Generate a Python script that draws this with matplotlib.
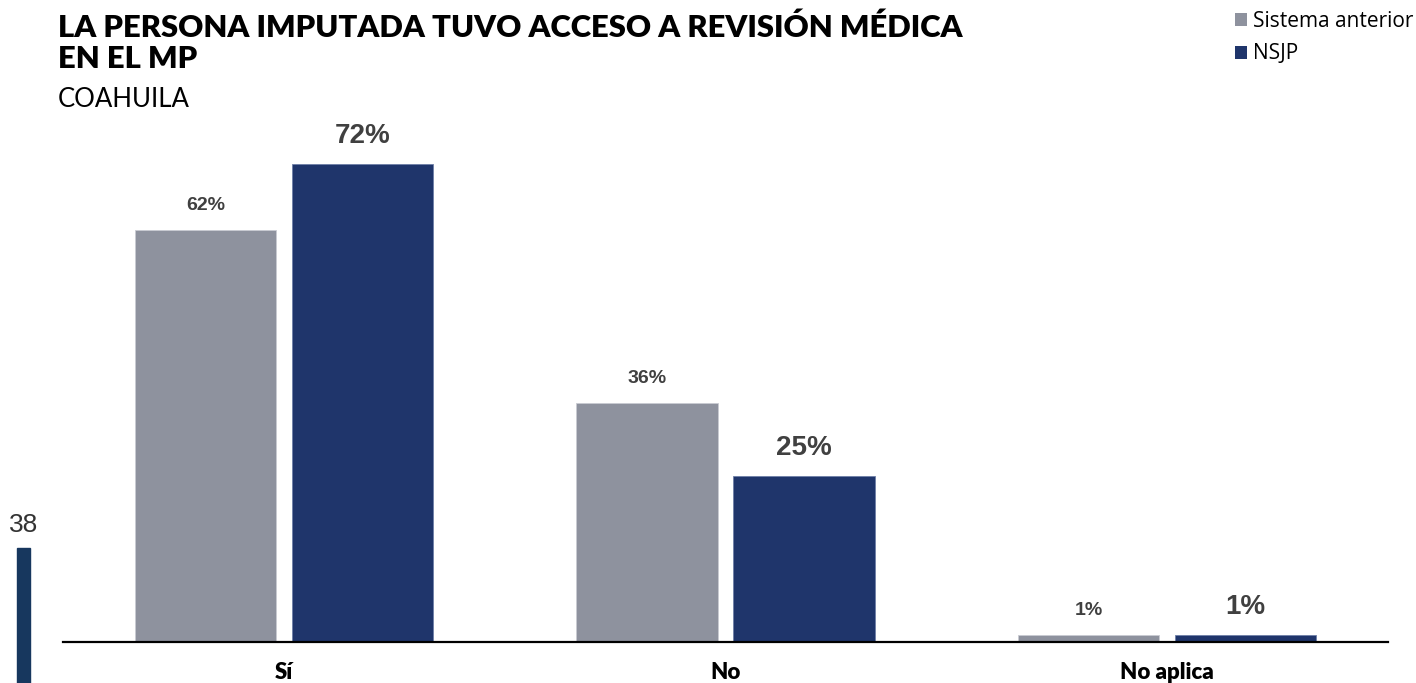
import matplotlib
matplotlib.use("Agg")
import matplotlib.pyplot as plt
import numpy as np
from matplotlib.patches import Rectangle

# Data
categories = ["Sí", "No", "No aplica"]
series_names = ["Sistema anterior", "NSJP"]
sistema_anterior = [62, 36, 1]
nsjp = [72, 25, 1]

title_lines = ["LA PERSONA IMPUTADA TUVO ACCESO A REVISIÓN MÉDICA", "EN EL MP"]
subtitle = "COAHUILA"
page_number = "38"

GRAY = "#8E929E"
NAVY = "#1F356B"
LABEL_COLOR = "#404040"

W, H, DPI = 1416, 683, 100
fig = plt.figure(figsize=(W / DPI, H / DPI), dpi=DPI)

# Plot area in pixels: left 63, right 1388, baseline at 642 from top, top at 100
ax_left, ax_right, ax_base, ax_top = 63, 1388, 642, 100
ax = fig.add_axes([ax_left / W, (H - ax_base) / H,
                   (ax_right - ax_left) / W, (ax_base - ax_top) / H])

x = np.arange(len(categories))
bar_w = 0.32
off = 0.1775
b1 = ax.bar(x - off, sistema_anterior, width=bar_w, color=GRAY,
            edgecolor="#C9CBD2", linewidth=0.6, label=series_names[0])
b2 = ax.bar(x + off, nsjp, width=bar_w, color=NAVY,
            edgecolor="#6E7FA8", linewidth=0.6, label=series_names[1])

ax.set_xlim(-0.5, 2.5)
ax.set_ylim(0, (ax_base - ax_top) / 6.64)

# Value labels above bars
for rect, v in zip(b1, sistema_anterior):
    ax.annotate(f"{v:.0f}%", (rect.get_x() + rect.get_width() / 2, rect.get_height()),
                xytext=(0, 20), textcoords="offset pixels", ha="center", va="baseline",
                fontsize=14, fontweight="bold", color=LABEL_COLOR,
                family="Liberation Sans")
for rect, v in zip(b2, nsjp):
    ax.annotate(f"{v:.0f}%", (rect.get_x() + rect.get_width() / 2, rect.get_height()),
                xytext=(0, 21), textcoords="offset pixels", ha="center", va="baseline",
                fontsize=20, fontweight="bold", color=LABEL_COLOR,
                family="Liberation Sans")

# Axes styling
for s in ["top", "right", "left"]:
    ax.spines[s].set_visible(False)
ax.spines["bottom"].set_color("black")
ax.spines["bottom"].set_linewidth(1.6)
ax.set_yticks([])
ax.set_xticks(x)
ax.set_xticklabels(categories, fontsize=16, fontweight="heavy", family="Lato")
ax.tick_params(axis="x", length=0, pad=37 * 72 / DPI)
for lbl in ax.get_xticklabels():
    lbl.set_va("baseline")

# Title block
fig.text(58 / W, 1 - 37 / H, title_lines[0], fontsize=22.3, fontweight="heavy",
         family="Lato", va="baseline", ha="left", color="black")
fig.text(58 / W, 1 - 68 / H, title_lines[1], fontsize=22.3, fontweight="heavy",
         family="Lato", va="baseline", ha="left", color="black")
fig.text(58 / W, 1 - 107 / H, subtitle, fontsize=18.5, family="Lato",
         va="baseline", ha="left", color="black")

# Legend
leg = fig.legend(handles=[b1, b2], labels=series_names, loc="upper left",
                 bbox_to_anchor=(1235 / W, 1 - 11 / H), frameon=False,
                 prop={"family": "Open Sans", "size": 15},
                 handlelength=0.58, handleheight=0.58, handletextpad=0.3,
                 labelspacing=0.55, borderaxespad=0, borderpad=0)
for h in leg.legend_handles:
    h.set_edgecolor("none")

# Page marker at lower left
fig.text(9 / W, 1 - 532 / H, page_number, fontsize=19, family="Liberation Sans",
         color="#333333", va="baseline", ha="left")
fig.patches.append(Rectangle((17 / W, 0), 13 / W, (H - 548) / H,
                             transform=fig.transFigure, color="#17375E"))

fig.savefig("out.png", dpi=DPI)
